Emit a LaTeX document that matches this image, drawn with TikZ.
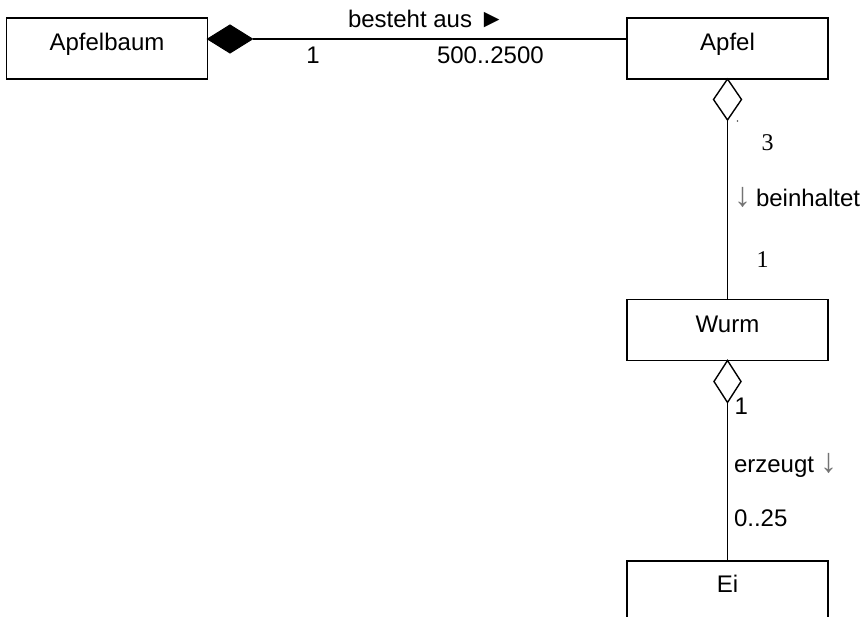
\documentclass[tikz,border=0pt]{standalone}
\usepackage{fontspec}
\setmainfont{Liberation Sans}
\newfontfamily\serifnum{Liberation Serif}
\usetikzlibrary{calc}

% grey direction arrow used beside association names
\newcommand{\dirdown}{{\fontsize{34}{34}\selectfont\color{black!55}\char"2193}}

\begin{document}
\begin{tikzpicture}[x=1pt,y=-1pt,
  every node/.style={inner sep=0pt, outer sep=0pt, font=\fontsize{24}{28}\selectfont},
  classbox/.style={draw, line width=1.5pt, minimum width=201pt, minimum height=61pt,
                   text height=18pt, text depth=13pt, anchor=north},
  conn/.style={line width=1.5pt},
  filleddia/.style={fill=black, draw=black, line width=1pt, line join=miter},
  hollowdia/.style={draw=black, fill=white, line width=1.4pt, line join=miter},
  lbl/.style={anchor=base west},
  num/.style={anchor=base, font=\serifnum\fontsize{24}{28}\selectfont}
]
\path[use as bounding box, clip] (0,0) rectangle (863,617);
\fill[white] (0,0) rectangle (863,617);

% classes
\node[classbox] (apfelbaum) at (107,18) {Apfelbaum};
\node[classbox] (apfel) at (727.5,18) {Apfel};
\node[classbox] (wurm) at (727.5,299.5) {Wurm};
\node[classbox, minimum height=80pt] (ei) at (727.5,561) {};
\node[anchor=base] (eitext) at (727.5,593) {Ei};

% composition: Apfelbaum -- Apfel
\coordinate (c1) at (apfelbaum.east |- 0,39);
\coordinate (c1tip) at ($(c1)+(45,0)$);
\draw[filleddia] (c1) -- ($(c1)+(22.5,-14)$) -- (c1tip) -- ($(c1)+(22.5,14)$) -- cycle;
\draw[conn] (c1tip) -- (c1tip -| apfel.west);
\node[lbl] (besteht) at (348,28) {besteht aus {\fontsize{26}{26}\selectfont\char"25BA}};
\node[anchor=base] (m1) at (313,64) {1};
\node[lbl] (m2) at (437,64) {500..2500};

% aggregation: Apfel -- Wurm
\coordinate (a1) at (apfel.south);
\coordinate (a1tip) at ($(a1)+(0,41)$);
\draw[hollowdia] (a1) -- ($(a1)+(14,20.5)$) -- (a1tip) -- ($(a1)+(-14,20.5)$) -- cycle;
\draw[conn] (a1tip) -- (wurm.north);
\fill[black!70] ($(a1tip)+(10,1)$) circle (0.8);
\node[num] (m3) at (767.5,151) {3};
\node[lbl] (beinhaltet) at (734,207) {\dirdown\hspace{5pt}beinhaltet};
\node[num] (m4) at (762.5,268) {1};

% aggregation: Wurm -- Ei
\coordinate (a2) at (wurm.south);
\coordinate (a2tip) at ($(a2)+(0,42)$);
\draw[hollowdia] (a2) -- ($(a2)+(13.5,21)$) -- (a2tip) -- ($(a2)+(-13.5,21)$) -- cycle;
\draw[conn] (a2tip) -- (ei.north);
\node[lbl] (m5) at (734.5,415) {1};
\node[lbl] (erzeugt) at (734,473) {erzeugt\hspace{6pt}\dirdown};
\node[lbl] (m6) at (734,527) {0..25};
\end{tikzpicture}
\end{document}
